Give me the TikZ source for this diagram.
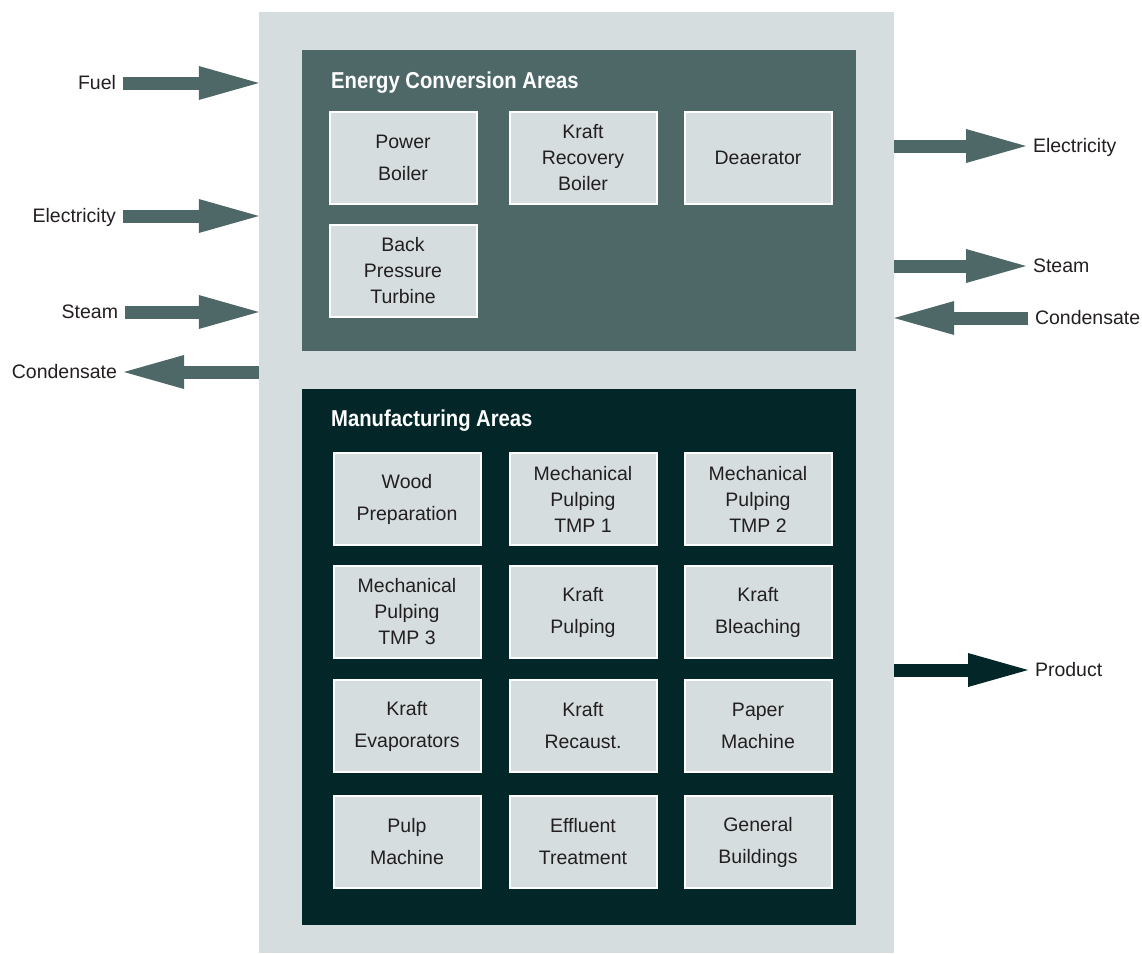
\documentclass[tikz,border=0pt]{standalone}
\usepackage{fontspec}
\setmainfont{Liberation Sans}
\newfontfamily\titlefont[FakeStretch=0.88]{Liberation Sans}
\usepackage{tikz}
\usetikzlibrary{arrows.meta}
\definecolor{sitegrey}{RGB}{213,221,223}
\definecolor{energyteal}{RGB}{78,104,104}
\definecolor{mfgdark}{RGB}{3,39,40}
\definecolor{inktext}{RGB}{35,31,32}

\begin{document}
\begin{tikzpicture}[x=1pt, y=-1pt, node distance=176pt,
    unit/.style={draw=white, line width=2pt, fill=sitegrey, text=inktext, minimum width=147pt, minimum height=92pt, inner sep=2pt, align=center, font=\fontsize{19.5}{26}\selectfont},
    unitpair/.style={unit, font=\fontsize{19.5}{32}\selectfont},
    panel/.style={rectangle, minimum width=554pt, inner sep=0pt},
    areatitle/.style={text=white, anchor=base west, inner sep=0pt, font=\titlefont\bfseries\fontsize{23}{26}\selectfont},
    flowlabel/.style={text=inktext, inner sep=3pt, outer sep=4pt, text height=14pt, text depth=2pt, font=\fontsize{19.5}{24}\selectfont},
    flow/.style={energyteal, line width=13pt, -{Triangle[length=60pt, width=34pt, line width=0pt]}},
    output/.style={flow, mfgdark}]
            \useasboundingbox (0,0) rectangle (1142,953);

            % backdrop and the two areas
            \node [fill=sitegrey, minimum width=635pt, minimum height=941pt, inner sep=0pt] (site) at (576.5,482.5) {};
            \node [panel, fill=energyteal, minimum height=301pt] (energy) at (579,200.5) {};
            \node [panel, fill=mfgdark, minimum height=536pt] (mfg) at (579,657) {};
            \node [areatitle] (energytitle) at (331,88) {Energy Conversion Areas};
            \node [areatitle] (mfgtitle) at (331,426) {Manufacturing Areas};

            % energy conversion units
            \node [unitpair] (powerboiler) at (403,158) {Power\\Boiler};
            \node [unit, right of=powerboiler, node distance=180pt] (recovery) {Kraft\\Recovery\\Boiler};
            \node [unit, right of=recovery, node distance=175pt] (deaerator) {Deaerator};
            \node [unit, below of=powerboiler, node distance=113pt] (turbine) {Back\\Pressure\\Turbine};

            % manufacturing units
            \node [unitpair] (woodprep) at (407,499) {Wood\\Preparation};
            \node [unit, right of=woodprep] (tmpone) {Mechanical\\Pulping\\TMP 1};
            \node [unit, right of=tmpone, node distance=175pt] (tmptwo) {Mechanical\\Pulping\\TMP 2};
            \node [unit, below of=woodprep, node distance=113pt] (tmpthree) {Mechanical\\Pulping\\TMP 3};
            \node [unitpair, right of=tmpthree] (pulping) {Kraft\\Pulping};
            \node [unitpair, right of=pulping, node distance=175pt] (bleaching) {Kraft\\Bleaching};
            \node [unitpair, below of=tmpthree, node distance=114pt] (evaporators) {Kraft\\Evaporators};
            \node [unitpair, right of=evaporators] (recaust) {Kraft\\Recaust.};
            \node [unitpair, right of=recaust, node distance=175pt] (papermachine) {Paper\\Machine};
            \node [unitpair, below of=evaporators, node distance=116pt] (pulpmachine) {Pulp\\Machine};
            \node [unitpair, right of=pulpmachine] (effluent) {Effluent\\Treatment};
            \node [unitpair, right of=effluent, node distance=175pt] (buildings) {General\\Buildings};

            % flows in and out
            \node [flowlabel, anchor=east] (fuel) at (123,83) {Fuel};
            \node [flowlabel, anchor=east] (elecin) at (123,216) {Electricity};
            \node [flowlabel, anchor=east] (steamin) at (125,312) {Steam};
            \node [flowlabel, anchor=east] (condout) at (124,372) {Condensate};
            \node [flowlabel, anchor=west] (elecout) at (1026,146) {Electricity};
            \node [flowlabel, anchor=west] (steamout) at (1026,266) {Steam};
            \node [flowlabel, anchor=west] (condin) at (1028,318) {Condensate};
            \node [flowlabel, anchor=west] (product) at (1028,670) {Product};

            \draw [flow] (fuel) -- (fuel -| site.west);
            \draw [flow] (elecin) -- (elecin -| site.west);
            \draw [flow] (steamin) -- (steamin -| site.west);
            \draw [flow] (condout -| site.west) -- (condout);
            \draw [flow] (elecout -| site.east) -- (elecout);
            \draw [flow] (steamout -| site.east) -- (steamout);
            \draw [flow] (condin) -- (condin -| site.east);
            \draw [output] (product -| site.east) -- (product);
        \end{tikzpicture}
\end{document}
